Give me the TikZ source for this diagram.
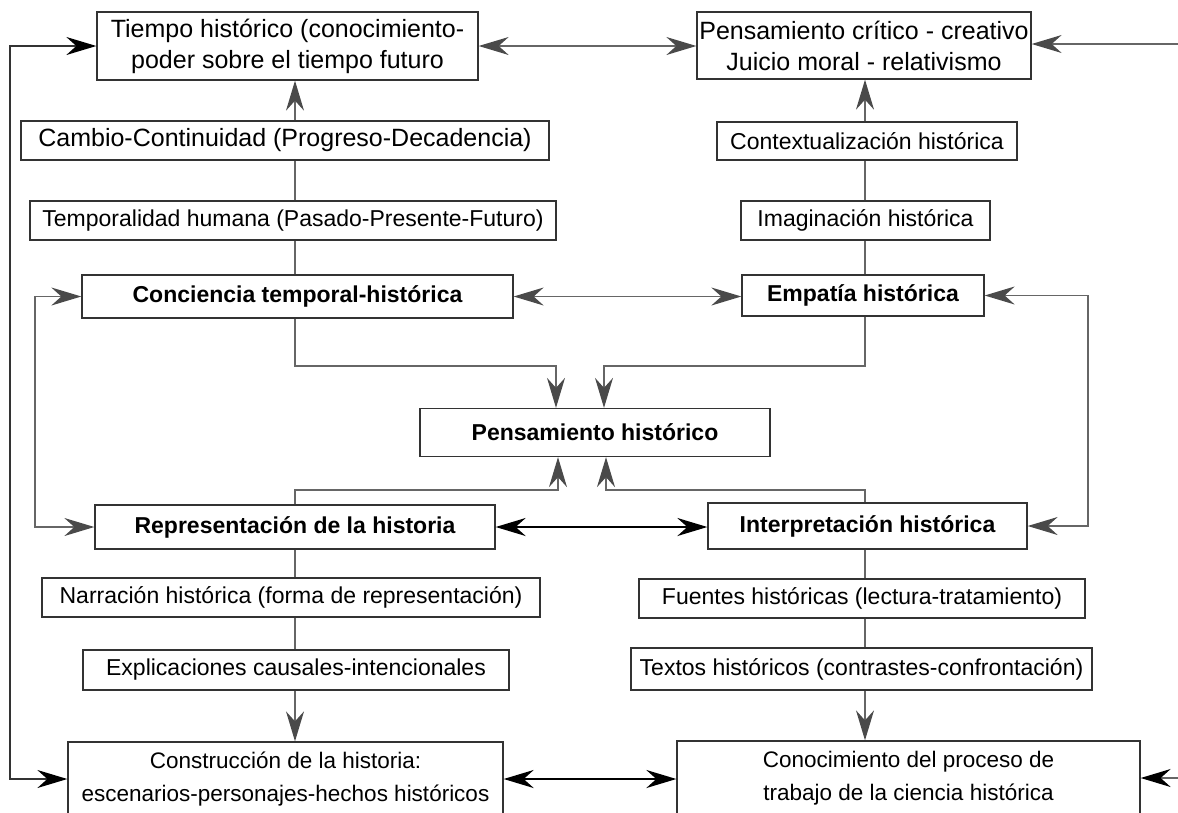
\documentclass[tikz,border=0pt]{standalone}
\usepackage{fontspec}
\setmainfont{Liberation Sans}
\usetikzlibrary{arrows.meta}
\definecolor{boxc}{HTML}{333333}
\definecolor{linec}{HTML}{666666}
\definecolor{tipc}{HTML}{4A4A4A}
\tikzset{
  GT/.tip={Stealth[length=30pt,width=18pt,inset=10pt,color=tipc]},
  BT/.tip={Stealth[length=30pt,width=18pt,inset=10pt,color=black]},
  box/.style={draw=boxc, line width=1.3pt, rectangle, inner sep=0pt, align=center, text=black},
  bx/.style n args={2}{box, minimum width=#1, minimum height=#2},
  bigf/.style={font=\fontsize{25}{31}\selectfont},
  regf/.style={font=\fontsize{23}{28}\selectfont},
  boldf/.style={font=\fontsize{23}{28}\selectfont\bfseries},
  botf/.style={font=\fontsize{22.5}{33}\selectfont},
  conn/.style={draw=linec, line width=1.3pt},
  gfwd/.style={conn, arrows={-GT}},
  gboth/.style={conn, arrows={GT-GT}},
  bboth/.style={draw=black, line width=2.4pt, arrows={BT-BT}},
  bloop/.style={draw=boxc, line width=1.5pt, arrows={BT-BT}},
  bfwd/.style={draw=linec, line width=1.5pt, arrows={-BT}},
}
\begin{document}
\begin{tikzpicture}[x=1pt,y=-1pt]
\useasboundingbox (0,0) rectangle (1178,812);
% nodes
\node[bx={381pt}{68pt}, bigf] (tiempo) at (287.5,46) {Tiempo histórico (conocimiento-\\poder sobre el tiempo futuro};
\node[bx={334pt}{67pt}, bigf] (pcrit) at (864,45.5) {Pensamiento crítico - creativo\\Juicio moral - relativismo};
\node[bx={528pt}{39pt}, bigf] (cambio) at (285,140.5) {Cambio-Continuidad (Progreso-Decadencia)};
\node[bx={300pt}{38pt}, regf] (context) at (867,141) {Contextualización histórica};
\node[bx={526pt}{39pt}, regf] (temporal) at (293,220.5) {Temporalidad humana (Pasado-Presente-Futuro)};
\node[bx={249pt}{39pt}, regf] (imagin) at (865.5,220.5) {Imaginación histórica};
\node[bx={431pt}{43pt}, boldf] (conciencia) at (297.5,296.5) {Conciencia temporal-histórica};
\node[bx={242pt}{41pt}, boldf] (empatia) at (863,295.5) {Empatía histórica};
\node[bx={350pt}{48pt}, boldf] (pensh) at (595,432.5) {Pensamiento histórico};
\node[bx={400pt}{44pt}, boldf] (repres) at (295,527) {Representación de la historia};
\node[bx={319pt}{46pt}, boldf] (interp) at (867.5,526) {Interpretación histórica};
\node[bx={498pt}{39pt}, regf] (narr) at (291,597.5) {Narración histórica (forma de representación)};
\node[bx={446pt}{39pt}, regf] (fuentes) at (862,598.5) {Fuentes históricas (lectura-tratamiento)};
\node[bx={426pt}{40pt}, regf] (explic) at (296,670) {Explicaciones causales-intencionales};
\node[bx={461pt}{42pt}, regf] (textos) at (861.5,669) {Textos históricos (contrastes-confrontación)};
\node[bx={435pt}{74pt}, botf] (constr) at (285.5,779) {Construcción de la historia:\\escenarios-personajes-hechos históricos};
\node[bx={463pt}{75pt}, botf] (conoc) at (908.5,778.5) {Conocimiento del proceso de\\trabajo de la ciencia histórica};
% helper coordinates
\coordinate (colL) at (295,0);
\coordinate (colR) at (865,0);
\coordinate (loopA) at (10,400);
\coordinate (loopB) at (35,400);
\coordinate (loopC) at (1088,400);
\coordinate (a1) at (556,366);
\coordinate (a2) at (604,366);
\coordinate (a3) at (558,490);
\coordinate (a4) at (606,490);
\coordinate (rE1) at (1178,44);
\coordinate (rE2) at (1178,778);
% top row
\draw[gboth] (tiempo.east) -- (tiempo.east -| pcrit.west);
\draw[gfwd] (rE1) -- (rE1 -| pcrit.east);
\draw[bloop] (tiempo.west) -| (loopA) |- (constr.west);
% left column
\draw[gfwd] (cambio.north -| colL) -- (tiempo.south -| colL);
\draw[conn] (temporal.north -| colL) -- (cambio.south -| colL);
\draw[conn] (conciencia.north -| colL) -- (temporal.south -| colL);
% right column
\draw[gfwd] (context.north -| colR) -- (pcrit.south -| colR);
\draw[conn] (imagin.north -| colR) -- (context.south -| colR);
\draw[conn] (empatia.north -| colR) -- (imagin.south -| colR);
% middle
\draw[gboth] (conciencia.east) -- (conciencia.east -| empatia.west);
\draw[gboth] (conciencia.west) -| (loopB) |- (repres.west);
\draw[gboth] (empatia.east) -| (loopC) |- (interp.east);
\draw[gfwd] (conciencia.south -| colL) |- (a1) -- (a1 |- pensh.north);
\draw[gfwd] (empatia.south -| colR) |- (a2) -- (a2 |- pensh.north);
\draw[gfwd] (repres.north -| colL) |- (a3) -- (a3 |- pensh.south);
\draw[gfwd] (interp.north -| colR) |- (a4) -- (a4 |- pensh.south);
\draw[bboth] (repres.east) -- (repres.east -| interp.west);
% lower columns
\draw[conn] (repres.south -| colL) -- (narr.north -| colL);
\draw[conn] (narr.south -| colL) -- (explic.north -| colL);
\draw[gfwd] (explic.south -| colL) -- (constr.north -| colL);
\draw[conn] (interp.south -| colR) -- (fuentes.north -| colR);
\draw[conn] (fuentes.south -| colR) -- (textos.north -| colR);
\draw[gfwd] (textos.south -| colR) -- (conoc.north -| colR);
% bottom row
\draw[bboth] (constr.east) -- (constr.east -| conoc.west);
\draw[bfwd] (rE2) -- (rE2 -| conoc.east);
\end{tikzpicture}
\end{document}
